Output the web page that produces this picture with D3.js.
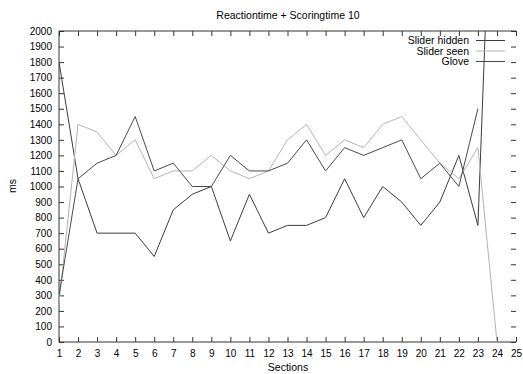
<!DOCTYPE html>
<html>
<head>
<meta charset="utf-8">
<script src="https://cdn.jsdelivr.net/npm/d3@7/dist/d3.min.js"></script>
<style>
    body { margin: 0; background: #fff; }
    svg { display: block; font-family: "Liberation Sans", Arial, sans-serif; }
    .axis path { display: none; }
    .axis line { stroke: #333; }
    .axis text { font-size: 10px; fill: #000; }
</style>
</head>
<body>
<div id="chart"></div>
<script>
// data
let sections = [1, 2, 3, 4, 5, 6, 7, 8, 9, 10, 11, 12, 13, 14, 15, 16, 17, 18, 19, 20, 21, 22, 23, 24];
let sliderHidden = [1800, 1050, 700, 700, 700, 550, 850, 950, 1000, 650, 950, 700, 750, 750, 800, 1050, 800, 1000, 900, 750, 900, 1200, 750, 4000];
let sliderSeen = [250, 1400, 1350, 1200, 1300, 1050, 1100, 1100, 1200, 1100, 1050, 1100, 1300, 1400, 1200, 1300, 1250, 1400, 1450, 1300, 1150, 1050, 1250, 0];
let glove = [300, 1050, 1150, 1200, 1450, 1100, 1150, 1000, 1000, 1200, 1100, 1100, 1150, 1300, 1100, 1250, 1200, 1250, 1300, 1050, 1150, 1000, 1500];
let xTicks = [1, 2, 3, 4, 5, 6, 7, 8, 9, 10, 11, 12, 13, 14, 15, 16, 17, 18, 19, 20, 21, 22, 23, 24, 25];
let yTicks = [0, 100, 200, 300, 400, 500, 600, 700, 800, 900, 1000, 1100, 1200, 1300, 1400, 1500, 1600, 1700, 1800, 1900, 2000];
let seriesNames = ['Slider hidden', 'Slider seen', 'Glove'];
let seriesColors = ['#3c3c3c', '#b4b4b4', '#4a4a4a'];

let width = 523, height = 374;
let margin = {top: 31, right: 7, bottom: 32, left: 59};

let svg = d3.select("#chart")
    .append("svg")
    .attr("width", width)
    .attr("height", height);

let x = d3.scaleLinear()
    .domain([1, 25])
    .range([margin.left, width - margin.right]);

let y = d3.scaleLinear()
    .domain([0, 2000])
    .range([height - margin.bottom, margin.top]);

// clip lines to the plot box, like gnuplot does
svg.append("clipPath")
    .attr("id", "plotclip")
    .append("rect")
    .attr("x", x(1))
    .attr("y", y(2000))
    .attr("width", x(25) - x(1))
    .attr("height", y(0) - y(2000));

// axes, ticks point inwards on all four sides
svg.append("g")
    .attr("class", "axis")
    .attr("transform", "translate(0," + y(0) + ")")
    .call(d3.axisBottom(x).tickValues(xTicks).tickSize(-5).tickPadding(8).tickFormat(d3.format("d")));

svg.append("g")
    .attr("class", "axis")
    .attr("transform", "translate(0," + y(2000) + ")")
    .call(d3.axisTop(x).tickValues(xTicks).tickSize(-5).tickFormat(""));

svg.append("g")
    .attr("class", "axis")
    .attr("transform", "translate(" + x(1) + ",0)")
    .call(d3.axisLeft(y).tickValues(yTicks).tickSize(-5).tickPadding(7).tickFormat(d3.format("d")));

svg.append("g")
    .attr("class", "axis")
    .attr("transform", "translate(" + x(25) + ",0)")
    .call(d3.axisRight(y).tickValues(yTicks).tickSize(-5).tickFormat(""));

// border
svg.append("path")
    .attr("d", "M" + x(25) + "," + y(2000) + "H" + x(1) + "V" + y(0) + "H" + x(25))
    .attr("fill", "none")
    .attr("stroke", "#333")
    .attr("stroke-width", 1);

let line = d3.line()
    .x(function (d) {
        return x(d.section);
    })
    .y(function (d) {
        return y(d.value);
    });

let allSeries = [sliderHidden, sliderSeen, glove];

allSeries.forEach(function (values, i) {
    let data = values.map(function (v, j) {
        return {section: sections[j], value: v};
    });
    svg.append("path")
        .datum(data)
        .attr("clip-path", "url(#plotclip)")
        .attr("fill", "none")
        .attr("stroke", seriesColors[i])
        .attr("stroke-width", 1)
        .attr("d", line);
});

// legend (top right, inside plot)
let legend = svg.append("g");
seriesNames.forEach(function (name, i) {
    let ly = 40.5 + i * 10.5;
    legend.append("text")
        .attr("x", 469)
        .attr("y", ly + 3.8)
        .attr("text-anchor", "end")
        .attr("font-size", "10.5px")
        .text(name);
    legend.append("line")
        .attr("x1", 476)
        .attr("x2", 505)
        .attr("y1", ly)
        .attr("y2", ly)
        .attr("stroke", seriesColors[i])
        .attr("stroke-width", 1);
});

// title and axis labels
svg.append("text")
    .attr("x", 288)
    .attr("y", 19)
    .attr("text-anchor", "middle")
    .attr("font-size", "10.5px")
    .text("Reactiontime + Scoringtime 10");

svg.append("text")
    .attr("transform", "translate(16,186) rotate(-90)")
    .attr("text-anchor", "middle")
    .attr("font-size", "10.5px")
    .text("ms");

svg.append("text")
    .attr("x", 288)
    .attr("y", 371)
    .attr("text-anchor", "middle")
    .attr("font-size", "10.5px")
    .text("Sections");
</script>
</body>
</html>
